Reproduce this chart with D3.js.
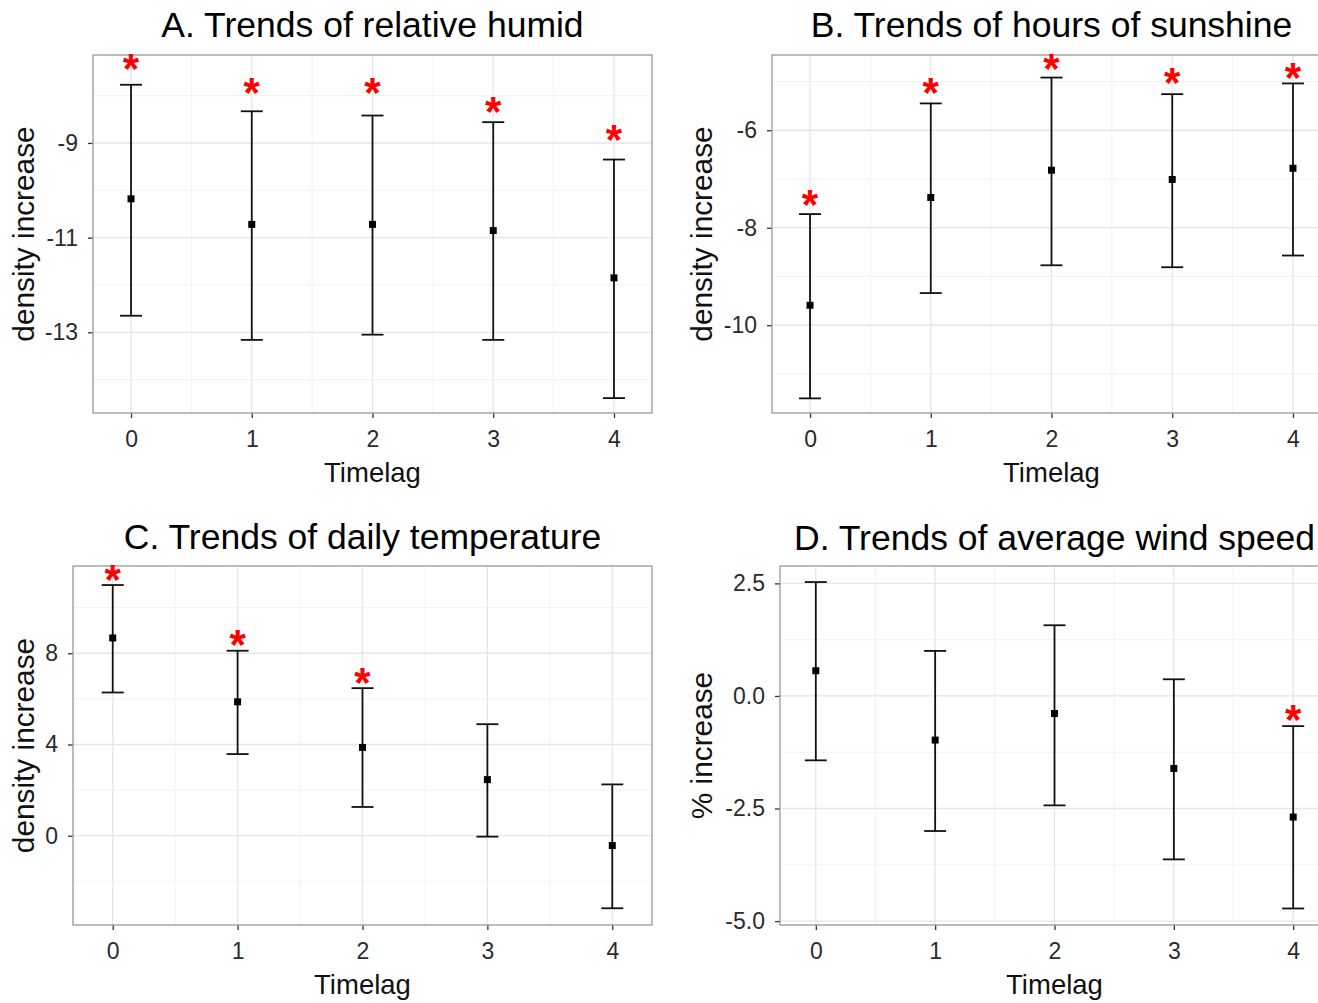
<!DOCTYPE html>
<html>
<head>
<meta charset="utf-8">
<script src="https://cdn.jsdelivr.net/npm/d3@7"></script>
<style>
  body { margin: 0; background: #fff; }
  svg { display: block; font-family: "Liberation Sans", Arial, sans-serif; }
</style>
</head>
<body>
<svg id="chart" width="1318" height="1003"></svg>
<script>
// ---- data ----
const lags = [0, 1, 2, 3, 4];

const humidEst  = [-10.18, -10.72, -10.72, -10.85, -11.85];
const humidLow  = [-12.65, -13.16, -13.05, -13.16, -14.39];
const humidHigh = [-7.77, -8.33, -8.42, -8.56, -9.35];
const humidStar = [-7.31, -7.82, -7.82, -8.22, -8.82];

const sunEst  = [-9.59, -7.38, -6.82, -7.01, -6.78];
const sunLow  = [-11.50, -9.34, -8.77, -8.81, -8.57];
const sunHigh = [-7.72, -5.45, -4.92, -5.26, -5.04];
const sunStar = [-7.42, -5.11, -4.62, -4.92, -4.81];

const tempEst  = [8.67, 5.87, 3.87, 2.46, -0.43];
const tempLow  = [6.28, 3.58, 1.26, -0.04, -3.18];
const tempHigh = [10.99, 8.11, 6.47, 4.89, 2.25];
const tempStar = [11.47, 8.61, 6.94, null, null];

const windEst  = [0.56, -0.98, -0.39, -1.61, -2.69];
const windLow  = [-1.43, -3.00, -2.43, -3.63, -4.72];
const windHigh = [2.53, 1.00, 1.57, 0.37, -0.67];
const windStar = [null, null, null, null, -0.40];

const titles = ["A. Trends of relative humid", "B. Trends of hours of sunshine",
                "C. Trends of daily temperature", "D. Trends of average wind speed"];
const yTitles = ["density increase", "density increase", "density increase", "% increase"];
const xTitle = "Timelag";

const humidTicks = [-9, -11, -13];
const humidMinor = [-8, -10, -12, -14];
const sunTicks = [-6, -8, -10];
const sunMinor = [-5, -7, -9, -11];
const tempTicks = [8, 4, 0];
const tempMinor = [10, 6, 2, -2];
const windTicks = [2.5, 0, -2.5, -5];
const windTickLabels = ["2.5", "0.0", "-2.5", "-5.0"];
const windMinor = [1.25, -1.25, -3.75];
const xMinor = [0.5, 1.5, 2.5, 3.5];

// ---- layout ----
const panels = [
  { est: humidEst, low: humidLow, high: humidHigh, star: humidStar, ticks: humidTicks, labels: humidTicks.map(String), minor: humidMinor,
    ydom: [-14.705, -7.141], xdom: [-0.315, 4.315], box: { x0: 93, x1: 652, y0: 55, y1: 413 }, title: titles[0], ytitle: yTitles[0], titleY: 36.5, ylabX: 34 },
  { est: sunEst, low: sunLow, high: sunHigh, star: sunStar, ticks: sunTicks, labels: sunTicks.map(String), minor: sunMinor,
    ydom: [-11.80, -4.457], xdom: [-0.315, 4.315], box: { x0: 772, x1: 1331, y0: 55, y1: 413 }, title: titles[1], ytitle: yTitles[1], titleY: 36.5, ylabX: 712 },
  { est: tempEst, low: tempLow, high: tempHigh, star: tempStar, ticks: tempTicks, labels: tempTicks.map(String), minor: tempMinor,
    ydom: [-3.914, 11.825], xdom: [-0.318, 4.318], box: { x0: 73, x1: 652, y0: 566, y1: 925 }, title: titles[2], ytitle: yTitles[2], titleY: 549, ylabX: 34 },
  { est: windEst, low: windLow, high: windHigh, star: windStar, ticks: windTicks, labels: windTickLabels, minor: windMinor,
    ydom: [-5.087, 2.886], xdom: [-0.3, 4.3], box: { x0: 780, x1: 1329, y0: 566, y1: 925 }, title: titles[3], ytitle: yTitles[3], titleY: 550, ylabX: 712 }
];

const svg = d3.select("#chart");
svg.append("rect").attr("width", 1318).attr("height", 1003).attr("fill", "#fff");

panels.forEach(p => {
  const b = p.box;
  const x = d3.scaleLinear().domain(p.xdom).range([b.x0, b.x1]);
  const y = d3.scaleLinear().domain(p.ydom).range([b.y1, b.y0]);
  const g = svg.append("g");

  // minor grid
  g.selectAll(".mx").data(xMinor).join("line")
    .attr("x1", d => x(d)).attr("x2", d => x(d)).attr("y1", b.y0).attr("y2", b.y1)
    .attr("stroke", "#f2f2f2").attr("stroke-width", 1);
  g.selectAll(".my").data(p.minor).join("line")
    .attr("y1", d => y(d)).attr("y2", d => y(d)).attr("x1", b.x0).attr("x2", b.x1)
    .attr("stroke", "#f2f2f2").attr("stroke-width", 1);
  // major grid
  g.selectAll(".gx").data(lags).join("line")
    .attr("x1", d => x(d)).attr("x2", d => x(d)).attr("y1", b.y0).attr("y2", b.y1)
    .attr("stroke", "#e6e6e6").attr("stroke-width", 1.3);
  g.selectAll(".gy").data(p.ticks).join("line")
    .attr("y1", d => y(d)).attr("y2", d => y(d)).attr("x1", b.x0).attr("x2", b.x1)
    .attr("stroke", "#e6e6e6").attr("stroke-width", 1.3);

  // axes
  const xAxis = d3.axisBottom(x).tickValues(lags).tickFormat(d3.format("d")).tickSize(5).tickPadding(13);
  const gx = g.append("g").attr("transform", `translate(0,${b.y1})`).call(xAxis);
  const yAxis = d3.axisLeft(y).tickValues(p.ticks).tickFormat((d, i) => p.labels[i]).tickSize(5).tickPadding(10);
  const gy = g.append("g").attr("transform", `translate(${b.x0},0)`).call(yAxis);
  [gx, gy].forEach(a => {
    a.select(".domain").remove();
    a.selectAll(".tick line").attr("stroke", "#333").attr("stroke-width", 1.3);
    a.selectAll(".tick text").attr("fill", "#2b2b2b").attr("font-size", 23)
      .attr("font-family", "Liberation Sans, Arial, sans-serif");
  });

  // border
  g.append("rect").attr("x", b.x0).attr("y", b.y0).attr("width", b.x1 - b.x0).attr("height", b.y1 - b.y0)
    .attr("fill", "none").attr("stroke", "#999").attr("stroke-width", 1.3);

  // error bars
  const cap = 11;
  const eb = g.append("g").attr("stroke", "#111").attr("stroke-width", 1.8).attr("fill", "none");
  eb.selectAll(".v").data(lags).join("line")
    .attr("x1", d => x(d)).attr("x2", d => x(d))
    .attr("y1", (d, i) => y(p.high[i])).attr("y2", (d, i) => y(p.low[i]));
  eb.selectAll(".ct").data(lags).join("line")
    .attr("x1", d => x(d) - cap).attr("x2", d => x(d) + cap)
    .attr("y1", (d, i) => y(p.high[i])).attr("y2", (d, i) => y(p.high[i]));
  eb.selectAll(".cb").data(lags).join("line")
    .attr("x1", d => x(d) - cap).attr("x2", d => x(d) + cap)
    .attr("y1", (d, i) => y(p.low[i])).attr("y2", (d, i) => y(p.low[i]));

  // points
  const s = 7;
  g.selectAll(".pt").data(lags).join("rect")
    .attr("x", d => x(d) - s / 2).attr("y", (d, i) => y(p.est[i]) - s / 2)
    .attr("width", s).attr("height", s).attr("fill", "#000");

  // stars
  const fs = 42;
  const starData = lags.map((d, i) => ({ lag: d, v: p.star[i] })).filter(d => d.v !== null);
  g.selectAll(".star").data(starData).join("text")
    .attr("x", d => x(d.lag)).attr("y", d => y(d.v) + 0.47 * fs)
    .attr("text-anchor", "middle").attr("font-size", fs).attr("font-weight", "bold").attr("fill", "#ff0000")
    .text("*");

  // titles
  const cx = (b.x0 + b.x1) / 2;
  g.append("text").attr("x", cx).attr("y", p.titleY).attr("text-anchor", "middle")
    .attr("font-size", 35.5).attr("fill", "#000").text(p.title);
  g.append("text").attr("x", cx).attr("y", b.y1 + 69).attr("text-anchor", "middle")
    .attr("font-size", 27.5).attr("fill", "#111").text(xTitle);
  g.append("text").attr("transform", `translate(${p.ylabX},${(b.y0 + b.y1) / 2}) rotate(-90)`)
    .attr("text-anchor", "middle").attr("font-size", 29.8).attr("fill", "#111").text(p.ytitle);
});
</script>
</body>
</html>
